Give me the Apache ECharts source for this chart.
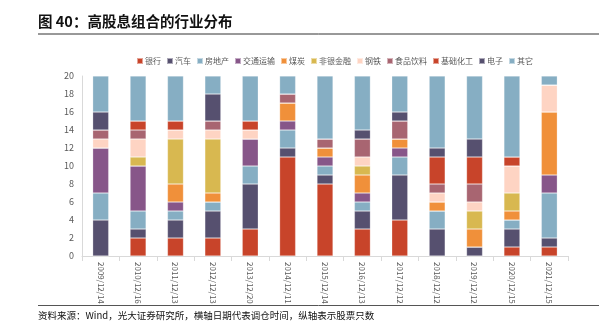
<!DOCTYPE html>
<html><head><meta charset="utf-8">
<script src="https://cdn.jsdelivr.net/npm/echarts@6/dist/echarts.min.js"></script>
<style>html,body{margin:0;padding:0;background:#fff}#c{width:610px;height:333px}</style>
</head><body><div id="c"></div>
<script>
const categories = ['2009/12/14','2010/12/16','2011/12/13','2012/12/13','2013/12/20','2014/12/11','2015/12/14','2016/12/13','2017/12/12','2018/12/12','2019/12/12','2020/12/15','2021/12/15'];
const seriesNames = ['银行','汽车','房地产','交通运输','煤炭','非银金融','钢铁','食品饮料','基础化工','电子','其它'];
const bank      = [0,2,2,2,3,11,8,3,4,0,0,1,1];
const auto      = [4,1,2,3,5,1,1,2,5,3,1,2,1];
const realty    = [3,2,1,1,2,2,1,1,2,2,0,1,5];
const transport = [5,5,1,0,3,1,1,1,1,0,0,0,2];
const coal      = [0,0,2,1,0,2,1,2,1,1,2,1,7];
const nonbank   = [0,1,5,6,0,0,0,1,0,0,2,2,0];
const steel     = [1,2,1,1,1,0,0,1,0,1,1,3,3];
const food      = [1,1,0,1,0,1,1,2,2,1,2,0,0];
const chem      = [0,1,1,0,1,0,0,0,0,3,3,1,0];
const elec      = [2,0,0,3,0,0,0,1,1,1,2,0,0];
const other     = [4,5,5,2,5,2,7,6,4,8,7,9,1];
const yTicks = [0,2,4,6,8,10,12,14,16,18,20];
const values = [bank,auto,realty,transport,coal,nonbank,steel,food,chem,elec,other];
const colors = ['#C8442A','#56506F','#86AEC3','#875689','#F0903A','#D8B850','#FED4C3','#A86571','#C8442A','#56506F','#86AEC3'];
const FONT = '"Noto Sans CJK SC", "Noto Sans", sans-serif';
const chart = echarts.init(document.getElementById('c'));
chart.setOption({
  animation:false,
  textStyle:{fontFamily:FONT},
  graphic:[
    {type:'text',left:38,top:14,style:{text:'图 40：高股息组合的行业分布',font:'bold 14.5px '+FONT,fill:'#111'}},
    {type:'line',shape:{x1:38,y1:34,x2:599,y2:34},style:{stroke:'#333',lineWidth:1}},
    {type:'line',shape:{x1:38,y1:305.5,x2:599,y2:305.5},style:{stroke:'#555',lineWidth:1}},
    {type:'text',left:38,top:311,style:{text:'资料来源：Wind，光大证券研究所，横轴日期代表调仓时间，纵轴表示股票只数',font:'9.5px '+FONT,fill:'#111'}}
  ],
  legend:{top:52,left:131,itemWidth:6,itemHeight:6,itemGap:5,icon:'rect',
    textStyle:{fontSize:8,color:'#595959',padding:[0,0,0,-3]},data:seriesNames},
  grid:{left:82,top:76,width:486,height:180},
  xAxis:{type:'category',data:categories,
    axisLine:{lineStyle:{color:'#D9D9D9'}},
    axisTick:{show:true,alignWithLabel:false,lineStyle:{color:'#D9D9D9'}},
    axisLabel:{rotate:-90,fontSize:8,color:'#595959',margin:6}},
  yAxis:{type:'value',min:0,max:20,interval:2,
    axisLine:{show:true,lineStyle:{color:'#D9D9D9'}},
    axisTick:{show:false},splitLine:{show:false},
    axisLabel:{fontSize:9,color:'#595959',margin:8,formatter:v=>yTicks.includes(v)?String(v):''}},
  series: seriesNames.map((n,i)=>({name:n,type:'bar',stack:'a',barWidth:16,
    itemStyle:{color:colors[i],borderColor:'rgba(255,255,255,0.5)',borderWidth:0.5},
    data:values[i]}))
});
</script></body></html>
